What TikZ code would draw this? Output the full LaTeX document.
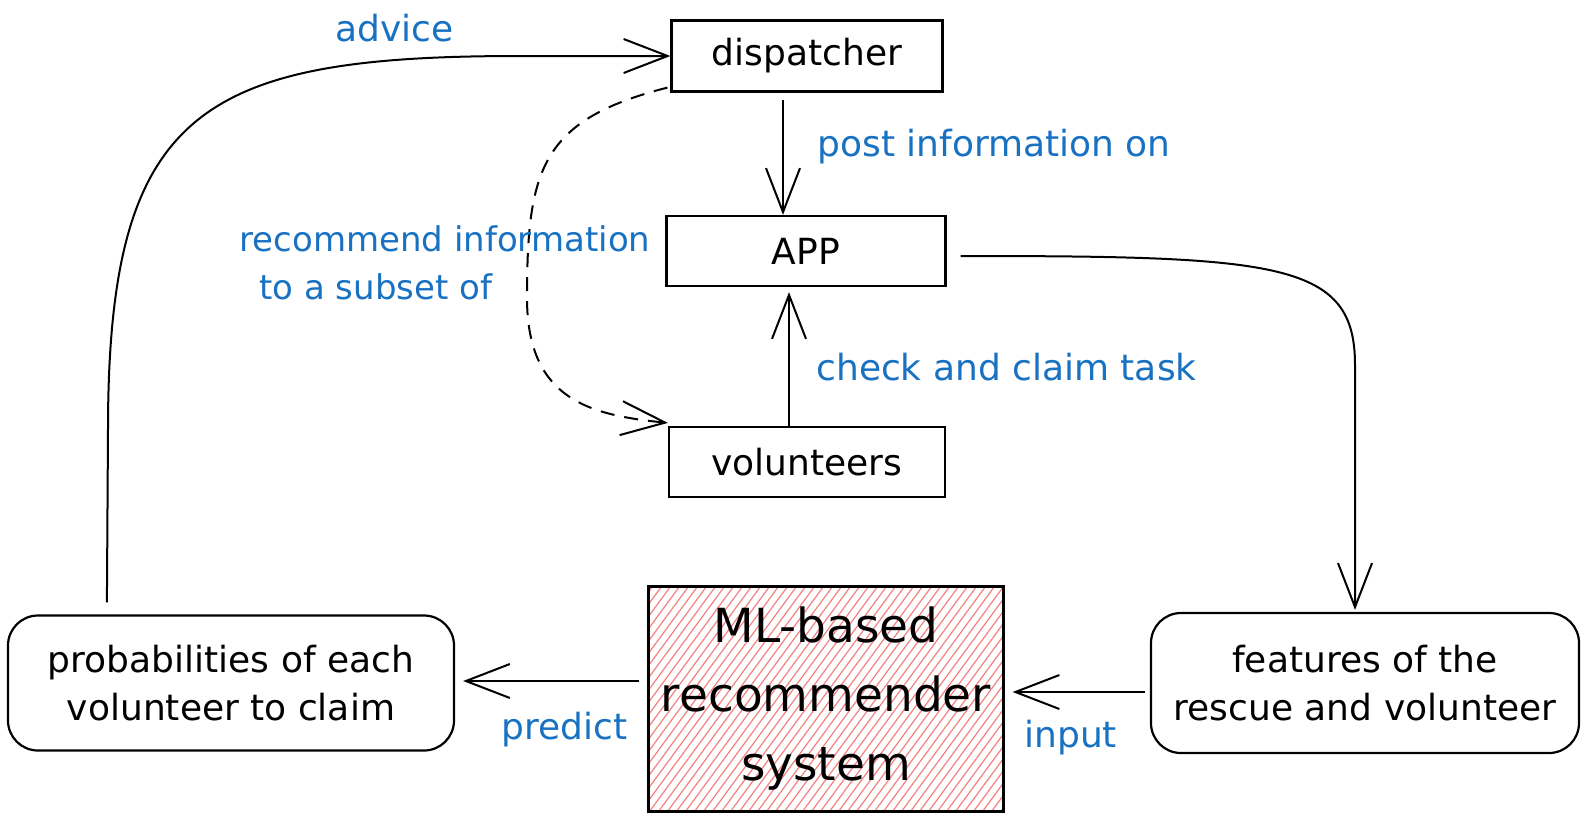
\documentclass[tikz,border=0pt]{standalone}
\usepackage{fontspec}
\setmainfont{DejaVu Sans}
\usetikzlibrary{arrows.meta,calc}
\definecolor{labblue}{HTML}{1971C2}
\definecolor{hatchred}{HTML}{F58080}
\newcommand\fsN{\fontsize{18}{24}\selectfont}
\newcommand\fsR{\fontsize{17}{24}\selectfont}
\newcommand\fsL{\fontsize{23.5}{34.5}\selectfont}
\begin{document}
\begin{tikzpicture}[x=0.5pt,y=-0.5pt,
  line/.style={line width=1pt, draw=black},
  arr/.style={line, -{Straight Barb[length=22pt,width=17pt,line width=1pt]}},
  box/.style={draw, line width=1.1pt, inner sep=0pt, align=center, font=\fsN},
  rbox/.style={box, rounded corners=15pt},
  lab/.style={text=labblue, font=\fsN, inner sep=0pt, anchor=west, align=left},
  hatch/.style={draw=hatchred, line width=0.6pt}]
\useasboundingbox (0,0) rectangle (1590,831);

\node[box, minimum width=135.5pt, minimum height=35.5pt] (disp) at (807,56) {dispatcher};
\node[box, minimum width=139.5pt, minimum height=35pt] (app) at (806,251) {APP};
\node[box, minimum width=138pt, minimum height=35pt] (vol) at (807,462) {volunteers};
\node[box, fill=white, minimum width=177.5pt, minimum height=112.5pt, font=\fsL,
  path picture={\foreach \k in {-170,-161,...,360}{\draw[hatch] ($(path picture bounding box.south west)+(\k,0)$) -- ++(165,-225);}}]
  (ml) at (826,699) {ML-based\\recommender\\system};
\node[rbox, minimum width=223pt, minimum height=67.5pt] (prob) at (231,683) {probabilities of each\\volunteer to claim};
\node[rbox, minimum width=214pt, minimum height=70pt] (feat) at (1365,683) {features of the\\rescue and volunteer};

% advice
\draw[arr] ($(prob.north west)+(100,-12)$) -- (108,430) .. controls (108,110) and (200,56) .. (520,56) -- (disp.west);
\node[lab] (ladvice) at (335,28) {advice};

% recommend (dashed)
\draw[arr, dash pattern=on 7pt off 5pt] ($(disp.south west)+(-3,-5)$) .. controls (540,120) and (527,170) .. (527,300) .. controls (528,400) and (590,415) .. ($(vol.north west)+(0,-3)$);
\node[lab, font=\fsR] (lrec) at (239,263) {recommend information\\\hspace*{10pt}to a subset of};

% post information on
\draw[arr] ($(disp.south)+(-24,7)$) -- ($(app.north)+(-23,0)$);
\node[lab] (lpost) at (817,147) {post information on};

% check and claim
\draw[arr] ($(vol.north)+(-18,0)$) -- ($(app.south)+(-17,5)$);
\node[lab] (lcheck) at (816,367) {check and claim task};

% APP -> features
\draw[arr] ($(app.east)+(14,5)$) .. controls (1280,256) and (1355,262) .. (1355,365) -- ($(feat.north)+(-10,-2)$);

% features -> ML
\draw[arr] ($(feat.west)+(-5,9)$) -- ($(ml.east)+(8,-7)$);
\node[lab] (linput) at (1024,738) {input};

% ML -> prob
\draw[arr] ($(ml.west)+(-8,-18)$) -- ($(prob.east)+(8,-2)$);
\node[lab] (lpredict) at (501,730) {predict};
\end{tikzpicture}
\end{document}
